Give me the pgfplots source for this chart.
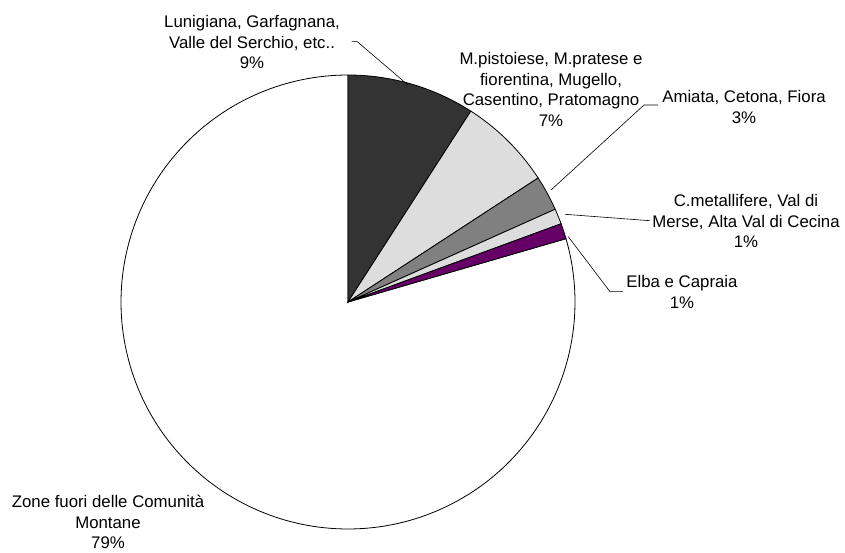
\documentclass[border=0pt]{standalone}
\usepackage{pgfplots}
\pgfplotsset{compat=1.18}
\usepackage{fontspec}
\setmainfont{Liberation Sans}
\definecolor{sdark}{HTML}{333333}
\definecolor{slight}{HTML}{DDDDDD}
\definecolor{sgray}{HTML}{808080}
\definecolor{spurple}{HTML}{660066}
\tikzset{lbl/.style={font=\fontsize{16.8}{20.4}\selectfont, align=center, inner sep=0pt, text=black}}
% slice values (percent), clockwise from 12 o'clock
\def\vA{9.1}\def\vB{6.7}\def\vC{2.5}\def\vD{1.1}\def\vE{1.1}\def\vF{79.5}
\pgfmathsetmacro\tA{90}
\pgfmathsetmacro\tB{\tA-3.6*\vA}
\pgfmathsetmacro\tC{\tB-3.6*\vB}
\pgfmathsetmacro\tD{\tC-3.6*\vC}
\pgfmathsetmacro\tE{\tD-3.6*\vD}
\pgfmathsetmacro\tF{\tE-3.6*\vE}
\pgfmathsetmacro\tG{\tF-3.6*\vF}
\def\cx{348}\def\cy{250}\def\rr{227}
\begin{document}
\begin{tikzpicture}
\begin{axis}[
  x=1pt, y=1pt, xmin=0, xmax=845, ymin=0, ymax=552,
  hide axis, clip=false,
]
\addplot[fill=white, draw=black, line width=0.8pt, domain=\tG:\tF, samples=200, variable=\t]
  ({\cx+\rr*cos(\t)},{\cy+\rr*sin(\t)}) -- (axis cs:\cx,\cy) -- cycle;
\addplot[fill=sdark, draw=black, line width=0.8pt, domain=\tB:\tA, samples=40, variable=\t]
  ({\cx+\rr*cos(\t)},{\cy+\rr*sin(\t)}) -- (axis cs:\cx,\cy) -- cycle;
\addplot[fill=slight, draw=black, line width=0.8pt, domain=\tC:\tB, samples=40, variable=\t]
  ({\cx+\rr*cos(\t)},{\cy+\rr*sin(\t)}) -- (axis cs:\cx,\cy) -- cycle;
\addplot[fill=sgray, draw=black, line width=0.8pt, domain=\tD:\tC, samples=20, variable=\t]
  ({\cx+\rr*cos(\t)},{\cy+\rr*sin(\t)}) -- (axis cs:\cx,\cy) -- cycle;
\addplot[fill=slight, draw=black, line width=0.8pt, domain=\tE:\tD, samples=10, variable=\t]
  ({\cx+\rr*cos(\t)},{\cy+\rr*sin(\t)}) -- (axis cs:\cx,\cy) -- cycle;
\addplot[fill=spurple, draw=black, line width=0.8pt, domain=\tF:\tE, samples=10, variable=\t]
  ({\cx+\rr*cos(\t)},{\cy+\rr*sin(\t)}) -- (axis cs:\cx,\cy) -- cycle;
% leader lines
\draw[black, line width=0.6pt] (axis cs:351.7,510.3) -- (axis cs:357.3,510.3) -- (axis cs:408,467);
\draw[black, line width=0.6pt] (axis cs:658,447) -- (axis cs:644,447) -- (axis cs:551,362);
\draw[black, line width=0.6pt] (axis cs:650,331.3) -- (axis cs:565,337.7);
\draw[black, line width=0.6pt] (axis cs:568.3,315.3) -- (axis cs:610,260.3) -- (axis cs:623,260.3);
% labels
\node[lbl] at (axis cs:252,510) {Lunigiana, Garfagnana,\\Valle del Serchio, etc..\\9\%};
\node[lbl] at (axis cs:551,462.5) {M.pistoiese, M.pratese e\\fiorentina, Mugello,\\Casentino, Pratomagno\\7\%};
\node[lbl] at (axis cs:744,445) {Amiata, Cetona, Fiora\\3\%};
\node[lbl] at (axis cs:746,331) {C.metallifere, Val di\\Merse, Alta Val di Cecina\\1\%};
\node[lbl] at (axis cs:682,260) {Elba e Capraia\\1\%};
\node[lbl] at (axis cs:108,30) {Zone fuori delle Comunità\\Montane\\79\%};
\end{axis}
\useasboundingbox (0,0) rectangle (845pt,552pt);
\end{tikzpicture}
\end{document}
